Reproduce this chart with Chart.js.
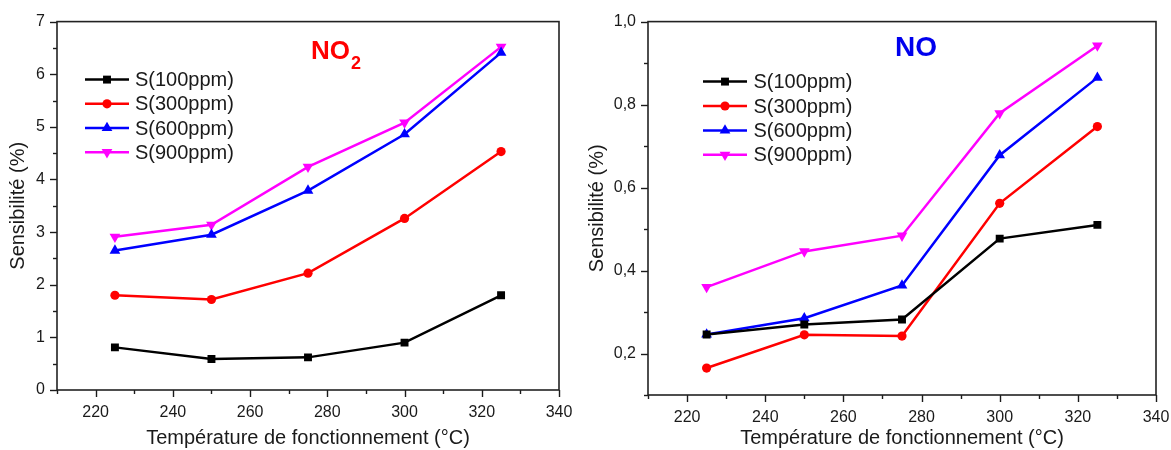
<!DOCTYPE html>
<html>
<head>
<meta charset="utf-8">
<script src="https://cdn.jsdelivr.net/npm/chart.js@4.4.1/dist/chart.umd.min.js"></script>
<style>
body { margin: 0; background: #fff; width: 1171px; height: 450px; overflow: hidden; }
#no2Chart { position: absolute; left: 0; top: 0; }
#noChart { position: absolute; left: 585px; top: 0; }
</style>
</head>
<body>
<canvas id="no2Chart" width="585" height="450"></canvas>
<canvas id="noChart" width="586" height="450"></canvas>
<script>
// data
const temperatures = [225, 250, 275, 300, 325];
const seriesLabels = ['S(100ppm)', 'S(300ppm)', 'S(600ppm)', 'S(900ppm)'];

const no2_100 = [0.81, 0.59, 0.62, 0.90, 1.80];
const no2_300 = [1.80, 1.72, 2.22, 3.26, 4.53];
const no2_600 = [2.65, 2.95, 3.79, 4.86, 6.41];
const no2_900 = [2.91, 3.14, 4.24, 5.08, 6.52];

const no_100 = [0.246, 0.270, 0.282, 0.477, 0.510];
const no_300 = [0.165, 0.245, 0.242, 0.562, 0.747];
const no_600 = [0.246, 0.285, 0.364, 0.678, 0.865];
const no_900 = [0.360, 0.446, 0.484, 0.779, 0.942];

const tempTicks = [220, 240, 260, 280, 300, 320, 340];
const no2Ticks = [0, 1, 2, 3, 4, 5, 6, 7];
const noTicks = [0.2, 0.4, 0.6, 0.8, 1.0];

const colors = ['#000000', '#ff0000', '#0000ff', '#ff00ff'];
const markers = [
    {pointStyle: 'rect', radius: 5.6, rotation: 0},
    {pointStyle: 'circle', radius: 4.6, rotation: 0},
    {pointStyle: 'triangle', radius: 6.2, rotation: 0},
    {pointStyle: 'triangle', radius: 6.2, rotation: 180}
];

const FONT = '"Liberation Sans", Arial, sans-serif';
Chart.defaults.font.family = FONT;
Chart.defaults.color = '#1a1a1a';

function makeDatasets(seriesList) {
    return seriesList.map((values, i) => ({
        label: seriesLabels[i],
        data: temperatures.map((t, j) => ({x: t, y: values[j]})),
        borderColor: colors[i],
        backgroundColor: colors[i],
        borderWidth: 2.5,
        tension: 0,
        pointStyle: markers[i].pointStyle,
        pointRadius: markers[i].radius,
        pointRotation: markers[i].rotation,
        pointBorderWidth: 0,
        pointBackgroundColor: colors[i]
    }));
}

// box, ticks, inner legend and gas label drawn like the Origin figure
const framePlugin = {
    id: 'frame',
    afterDraw(chart, args, opts) {
        const ctx = chart.ctx;
        const a = chart.chartArea;
        ctx.save();

        // ticks (major + minor, outward)
        ctx.strokeStyle = '#1a1a1a';
        ctx.lineWidth = 1.4;
        const drawTicks = (scale, horizontal) => {
            const majors = scale.ticks.map(t => t.value);
            const half = (majors[1] - majors[0]) / 2;
            const marks = [];
            for (let v = majors[0]; v >= scale.min - 1e-9; v -= half) marks.push(v);
            for (let v = majors[0] + half; v <= scale.max + 1e-9; v += half) marks.push(v);
            marks.forEach(v => {
                const isMajor = majors.some(m => Math.abs(m - v) < 1e-6);
                const len = isMajor ? 7 : 4;
                const p = Math.round(scale.getPixelForValue(v)) + 0.5;
                ctx.beginPath();
                if (horizontal) {
                    ctx.moveTo(p, a.bottom);
                    ctx.lineTo(p, a.bottom + len);
                } else {
                    ctx.moveTo(a.left, p);
                    ctx.lineTo(a.left - len, p);
                }
                ctx.stroke();
            });
        };
        drawTicks(chart.scales.x, true);
        drawTicks(chart.scales.y, false);

        // box
        ctx.lineWidth = 1.6;
        ctx.strokeStyle = '#222';
        ctx.strokeRect(a.left, a.top, a.right - a.left, a.bottom - a.top);

        // legend
        const lg = opts.legend;
        chart.data.datasets.forEach((ds, i) => {
            const y = a.top + lg.top + i * lg.gap;
            const x0 = a.left + lg.left;
            ctx.strokeStyle = ds.borderColor;
            ctx.fillStyle = ds.borderColor;
            ctx.lineWidth = 2.5;
            ctx.beginPath();
            ctx.moveTo(x0, y);
            ctx.lineTo(x0 + lg.lineLen, y);
            ctx.stroke();
            Chart.helpers.drawPoint(ctx, {
                pointStyle: ds.pointStyle,
                radius: ds.pointRadius,
                rotation: ds.pointRotation,
                borderWidth: 0
            }, x0 + lg.lineLen / 2, y);
            ctx.fillStyle = '#1a1a1a';
            ctx.font = lg.size + 'px ' + FONT;
            ctx.textBaseline = 'middle';
            ctx.textAlign = 'left';
            ctx.fillText(ds.label, x0 + lg.textOffset, y + 1);
        });

        // gas label
        ctx.textBaseline = 'alphabetic';
        opts.gas.forEach(part => {
            ctx.fillStyle = part.color;
            ctx.font = 'bold ' + part.size + 'px ' + FONT;
            ctx.fillText(part.text, part.x, part.y);
        });
        ctx.restore();
    }
};

function makeChart(canvasId, seriesList, yTicks, cfg) {
    const ctx = document.getElementById(canvasId).getContext('2d');
    return new Chart(ctx, {
        type: 'line',
        data: {datasets: makeDatasets(seriesList)},
        plugins: [framePlugin],
        options: {
            responsive: false,
            animation: false,
            devicePixelRatio: 1,
            layout: {padding: cfg.padding},
            plugins: {
                legend: {display: false},
                tooltip: {enabled: false},
                frame: {legend: cfg.legend, gas: cfg.gas}
            },
            scales: {
                x: {
                    type: 'linear',
                    min: 210,
                    max: 340,
                    afterBuildTicks: s => { s.ticks = tempTicks.map(v => ({value: v})); },
                    afterFit: s => {
                        s.height = cfg.xHeight;
                        s.paddingLeft = 0;
                        s.paddingRight = 0;
                    },
                    grid: {display: false, drawTicks: false},
                    border: {display: false},
                    ticks: {
                        autoSkip: false,
                        maxRotation: 0,
                        padding: 13,
                        font: {size: 16},
                        color: '#1a1a1a'
                    },
                    title: {
                        display: true,
                        text: 'Température de fonctionnement (°C)',
                        font: {size: 20},
                        color: '#1a1a1a',
                        padding: {top: 0, bottom: 0}
                    }
                },
                y: {
                    type: 'linear',
                    min: cfg.yMin,
                    max: cfg.yMax,
                    afterBuildTicks: s => { s.ticks = yTicks.map(v => ({value: v})); },
                    afterFit: s => { s.width = cfg.yWidth; },
                    grid: {display: false, drawTicks: false},
                    border: {display: false},
                    ticks: {
                        padding: 12,
                        font: {size: 16},
                        color: '#1a1a1a',
                        callback: cfg.format
                    },
                    title: {
                        display: true,
                        text: 'Sensibilité (%)',
                        font: {size: 20},
                        color: '#1a1a1a',
                        padding: {top: cfg.yTitlePad, bottom: 0}
                    }
                }
            }
        }
    });
}

makeChart('no2Chart', [no2_100, no2_300, no2_600, no2_900], no2Ticks, {
    padding: {top: 21, right: 26, bottom: 0, left: 0},
    xHeight: 60,
    yWidth: 57,
    yTitlePad: 6,
    yMin: 0,
    yMax: 7,
    format: v => String(v),
    legend: {left: 28, top: 58, gap: 24.2, lineLen: 44, textOffset: 50, size: 20},
    gas: [
        {text: 'NO', x: 311, y: 59, size: 26, color: '#ff0000'},
        {text: '2', x: 351, y: 69, size: 18, color: '#ff0000'}
    ]
});

makeChart('noChart', [no_100, no_300, no_600, no_900], noTicks, {
    padding: {top: 20, right: 15, bottom: 0, left: 0},
    xHeight: 55,
    yWidth: 63,
    yTitlePad: 0,
    yMin: 0.1,
    yMax: 1.0,
    format: v => v.toFixed(1).replace('.', ','),
    legend: {left: 55, top: 60, gap: 24.4, lineLen: 44, textOffset: 50.5, size: 20},
    gas: [
        {text: 'NO', x: 310, y: 56, size: 28, color: '#0000ee'}
    ]
});
</script>
</body>
</html>
